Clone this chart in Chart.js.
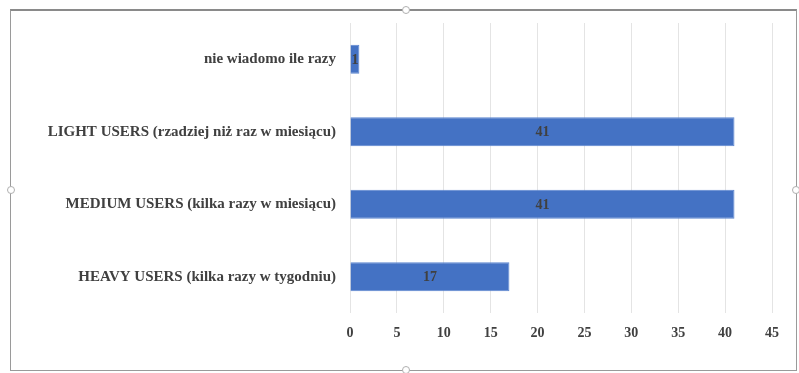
<!DOCTYPE html>
<html>
<head>
<meta charset="utf-8">
<script src="https://cdn.jsdelivr.net/npm/chart.js@4/dist/chart.umd.min.js"></script>
<style>
    html, body { margin: 0; padding: 0; background: #fff; }
    #wrap { position: relative; width: 799px; height: 373px; }
    #frame {
        position: absolute; left: 10px; top: 9px; width: 785px; height: 359px;
        border: 1px solid #9a9a9a; border-top: 2px solid #8a8a8a;
    }
    .handle {
        position: absolute; width: 6px; height: 6px; border-radius: 50%;
        background: #fff; border: 1px solid #b0b0b0;
    }
    canvas { position: absolute; left: 0; top: 0; }
</style>
</head>
<body>
<div id="wrap">
    <div id="frame"></div>
    <div class="handle" style="left:402px;top:6px"></div>
    <div class="handle" style="left:7px;top:186px"></div>
    <div class="handle" style="left:792px;top:186px"></div>
    <div class="handle" style="left:402px;top:366px"></div>
    <canvas id="chart" width="799" height="373"></canvas>
</div>
<script>
    const categories = [
        'nie wiadomo ile razy',
        'LIGHT USERS (rzadziej niż raz w miesiącu)',
        'MEDIUM USERS (kilka razy w miesiącu)',
        'HEAVY USERS (kilka razy w tygodniu)'
    ];
    const values = [1, 41, 41, 17];
    const xTicks = [0, 5, 10, 15, 20, 25, 30, 35, 40, 45];

    const FONT = "'Liberation Serif', 'Times New Roman', serif";

    // etykiety wartości w środku słupków
    const barLabels = {
        id: 'barLabels',
        afterDatasetsDraw(chart) {
            const ctx = chart.ctx;
            const meta = chart.getDatasetMeta(0);
            ctx.save();
            ctx.font = 'bold 14px ' + FONT;
            ctx.fillStyle = '#404040';
            ctx.textAlign = 'center';
            ctx.textBaseline = 'middle';
            meta.data.forEach((bar, i) => {
                const cx = (bar.x + bar.base) / 2;
                ctx.fillText(String(values[i]), cx, bar.y + 1);
            });
            ctx.restore();
        }
    };

    new Chart(document.getElementById('chart').getContext('2d'), {
        type: 'bar',
        data: {
            labels: categories,
            datasets: [{
                data: values,
                backgroundColor: '#4472c4',
                borderColor: '#5b86d0',
                borderWidth: 1,
                barPercentage: 0.4,
                categoryPercentage: 1
            }]
        },
        options: {
            indexAxis: 'y',
            responsive: false,
            animation: false,
            layout: { padding: { top: 19, right: 27, left: 0, bottom: 0 } },
            plugins: {
                legend: { display: false },
                tooltip: { enabled: false }
            },
            scales: {
                x: {
                    min: 0,
                    max: 45,
                    afterBuildTicks(scale) {
                        scale.ticks = xTicks.map(v => ({ value: v }));
                    },
                    afterFit(scale) { scale.height = 60; },
                    grid: { color: '#e4e4e4', drawTicks: false },
                    border: { display: false },
                    ticks: {
                        padding: 12,
                        color: '#404040',
                        font: { family: FONT, size: 14, weight: 'bold' }
                    }
                },
                y: {
                    afterFit(scale) { scale.width = 350; },
                    grid: { display: false, drawTicks: false },
                    border: { display: false },
                    ticks: {
                        padding: 14,
                        color: '#404040',
                        font: { family: FONT, size: 15, weight: 'bold' }
                    }
                }
            }
        },
        plugins: [barLabels]
    });
</script>
</body>
</html>
